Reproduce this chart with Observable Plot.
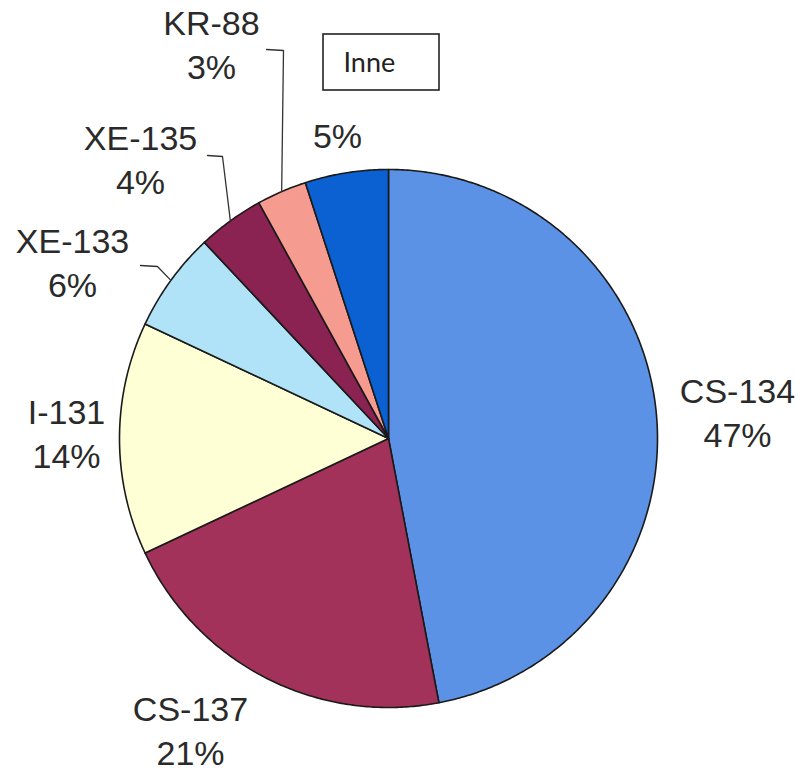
<!DOCTYPE html>
<html><head><meta charset="utf-8">
<script src="https://cdn.jsdelivr.net/npm/d3@7"></script>
<script src="https://cdn.jsdelivr.net/npm/@observablehq/plot@0.6"></script>
<style>html,body{margin:0;padding:0;background:#fff}</style>
</head><body><div id="chart"></div>
<script>
// ---- data ----
const isotopes = ["CS-134","CS-137","I-131","XE-133","XE-135","KR-88","Inne"];
const shares   = [47, 21, 14, 6, 4, 3, 5];
const colors   = ["#5b92e6","#a3325a","#ffffd6","#b1e3f8","#8a2352","#f69b90","#0b60d2"];

// ---- layout (pixels) ----
const W = 804, H = 774, CX = 388, CY = 438, R = 269;
const px = v => (v - CX) / R, py = v => (CY - v) / R;
const labelPos = {"CS-134":[737,410],"CS-137":[190,728],"I-131":[66,431],"XE-133":[72,260],"XE-135":[140,157],"KR-88":[211,42],"Inne":[337,133]};
const leaderPos = {"XE-133":[[157,266],[140,265]],"XE-135":[[222,156],[207,155]],"KR-88":[[283,50],[266,49]]};
const boxPos = {x1:323,x2:439,y1:34,y2:90,tx:343,ty:63};

// ---- geometry from data ----
const total = d3.sum(shares);
const slices = [];
let acc = 0;
isotopes.forEach((name, i) => {
  const a0 = acc / total * 2 * Math.PI; acc += shares[i];
  const a1 = acc / total * 2 * Math.PI;
  slices.push({name, value: shares[i], a0, a1, mid: (a0 + a1) / 2});
});
const pts = [];
for (const s of slices) {
  pts.push({name: s.name, x: 0, y: 0});
  const n = Math.max(2, Math.ceil((s.a1 - s.a0) / (Math.PI / 360)));
  for (let k = 0; k <= n; k++) {
    const a = s.a0 + (s.a1 - s.a0) * k / n;
    pts.push({name: s.name, x: Math.sin(a), y: Math.cos(a)});
  }
}
const leaders = [];
for (const s of slices) {
  const lp = leaderPos[s.name]; if (!lp) continue;
  leaders.push({name: s.name, x: Math.sin(s.mid), y: Math.cos(s.mid)});
  for (const [lx, ly] of lp) leaders.push({name: s.name, x: px(lx), y: py(ly)});
}
const labels = slices.map(s => ({
  name: s.name,
  text: s.name === "Inne" ? `${s.value}%` : `${s.name}\n${s.value}%`,
  x: px(labelPos[s.name][0]), y: py(labelPos[s.name][1])
}));

const chart = Plot.plot({
  width: W, height: H, margin: 0,
  x: {domain: [-CX / R, (W - CX) / R], axis: null},
  y: {domain: [-(H - CY) / R, CY / R], axis: null},
  color: {domain: isotopes, range: colors},
  style: {fontFamily: "'Liberation Sans', Arial, sans-serif", background: "white"},
  marks: [
    Plot.line(pts, {x: "x", y: "y", z: "name", fill: "name", stroke: "#1a1a1a", strokeWidth: 1.6, curve: "linear-closed", strokeLinejoin: "round"}),
    Plot.line(leaders, {x: "x", y: "y", z: "name", stroke: "#333", strokeWidth: 1.3}),
    Plot.text(labels, {x: "x", y: "y", text: "text", fontSize: 34, lineHeight: 1.3, fill: "#2a2a2a", textAnchor: "middle"}),
    Plot.rect([boxPos], {x1: d => px(d.x1), x2: d => px(d.x2), y1: d => py(d.y1), y2: d => py(d.y2), fill: "white", stroke: "#222", strokeWidth: 1.6}),
    Plot.text([boxPos], {x: d => px(d.tx), y: d => py(d.ty), text: () => isotopes[6], textAnchor: "start", fontFamily: "Lato, 'Open Sans', sans-serif", fontSize: 27, fill: "#222"})
  ]
});
document.getElementById("chart").appendChild(chart);
</script>
</body></html>
